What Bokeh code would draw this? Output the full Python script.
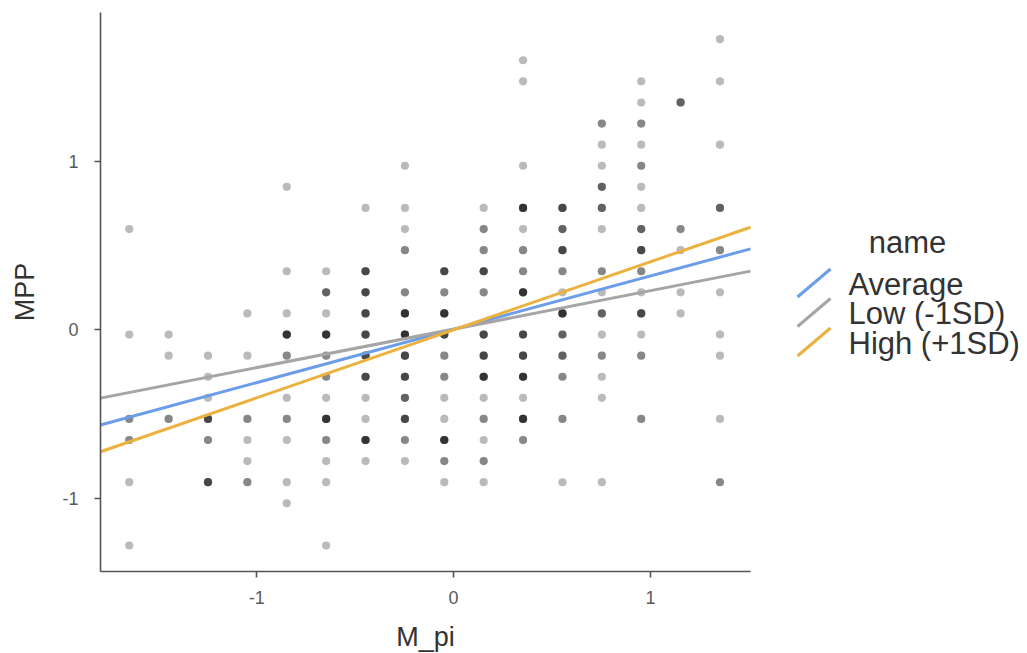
import numpy as np
from bokeh.plotting import figure
from bokeh.models import Range1d, FixedTicker, PrintfTickFormatter, Title
from bokeh.embed import file_html
from bokeh.resources import INLINE
from bokeh.core.properties import value

# ---------------- data ----------------
# one entry per distinct (M_pi, MPP) position; N_OBS = overlapping observations there
M_PI = [
    -1.647, -1.647, -1.647, -1.647, -1.647, -1.647,
    -1.447, -1.447, -1.447,
    -1.247, -1.247, -1.247, -1.247, -1.247, -1.247,
    -1.047, -1.047, -1.047, -1.047, -1.047, -1.047,
    -0.847, -0.847, -0.847, -0.847, -0.847, -0.847, -0.847, -0.847, -0.847, -0.847,
    -0.647, -0.647, -0.647, -0.647, -0.647, -0.647, -0.647, -0.647, -0.647, -0.647, -0.647, -0.647,
    -0.447, -0.447, -0.447, -0.447, -0.447, -0.447, -0.447, -0.447, -0.447, -0.447, -0.447,
    -0.247, -0.247, -0.247, -0.247, -0.247, -0.247, -0.247, -0.247, -0.247, -0.247, -0.247, -0.247, -0.247,
    -0.047, -0.047, -0.047, -0.047, -0.047, -0.047, -0.047, -0.047, -0.047, -0.047, -0.047,
    0.153, 0.153, 0.153, 0.153, 0.153, 0.153, 0.153, 0.153, 0.153, 0.153, 0.153, 0.153, 0.153,
    0.353, 0.353, 0.353, 0.353, 0.353, 0.353, 0.353, 0.353, 0.353, 0.353, 0.353, 0.353, 0.353, 0.353,
    0.553, 0.553, 0.553, 0.553, 0.553, 0.553, 0.553, 0.553, 0.553, 0.553, 0.553,
    0.753, 0.753, 0.753, 0.753, 0.753, 0.753, 0.753, 0.753, 0.753, 0.753, 0.753, 0.753, 0.753, 0.753,
    0.953, 0.953, 0.953, 0.953, 0.953, 0.953, 0.953, 0.953, 0.953, 0.953, 0.953, 0.953, 0.953, 0.953, 0.953,
    1.153, 1.153, 1.153, 1.153, 1.153,
    1.353, 1.353, 1.353, 1.353, 1.353, 1.353, 1.353, 1.353, 1.353, 1.353,
]
MPP = [
    0.597, -0.028, -0.528, -0.653, -0.903, -1.278,
    -0.028, -0.153, -0.528,
    -0.153, -0.278, -0.403, -0.528, -0.653, -0.903,
    0.097, -0.153, -0.528, -0.653, -0.778, -0.903,
    0.847, 0.347, 0.097, -0.028, -0.153, -0.403, -0.528, -0.653, -0.903, -1.028,
    0.347, 0.222, 0.097, -0.028, -0.153, -0.278, -0.403, -0.528, -0.653, -0.778, -0.903, -1.278,
    0.722, 0.347, 0.222, 0.097, -0.028, -0.153, -0.278, -0.403, -0.528, -0.653, -0.778,
    0.972, 0.722, 0.597, 0.472, 0.222, 0.097, -0.028, -0.153, -0.278, -0.403, -0.528, -0.653, -0.778,
    0.347, 0.222, 0.097, -0.028, -0.153, -0.278, -0.403, -0.528, -0.653, -0.778, -0.903,
    0.722, 0.597, 0.472, 0.347, 0.222, -0.028, -0.153, -0.278, -0.403, -0.528, -0.653, -0.778, -0.903,
    1.597, 1.472, 0.972, 0.722, 0.597, 0.472, 0.347, 0.222, -0.028, -0.153, -0.278, -0.403, -0.528, -0.653,
    0.722, 0.597, 0.472, 0.347, 0.222, 0.097, -0.028, -0.153, -0.278, -0.528, -0.903,
    1.222, 1.097, 0.972, 0.847, 0.722, 0.597, 0.347, 0.222, 0.097, -0.028, -0.153, -0.278, -0.403, -0.903,
    1.472, 1.347, 1.222, 1.097, 0.972, 0.847, 0.722, 0.597, 0.472, 0.347, 0.222, 0.097, -0.028, -0.153, -0.528,
    1.347, 0.597, 0.472, 0.222, 0.097,
    1.722, 1.472, 1.097, 0.722, 0.472, 0.222, -0.028, -0.153, -0.528, -0.903,
]
N_OBS = [
    1, 1, 2, 2, 1, 1,
    1, 1, 2,
    1, 1, 1, 4, 2, 4,
    1, 1, 2, 1, 1, 2,
    1, 1, 1, 5, 2, 1, 2, 1, 1, 1,
    1, 3, 1, 5, 2, 2, 1, 5, 2, 1, 1, 1,
    1, 4, 4, 4, 4, 4, 4, 1, 1, 5, 1,
    1, 1, 1, 2, 2, 5, 5, 4, 4, 3, 4, 2, 1,
    4, 2, 5, 4, 2, 2, 1, 1, 5, 2, 1,
    1, 2, 2, 4, 2, 4, 4, 5, 1, 2, 1, 2, 1,
    1, 1, 1, 5, 1, 2, 2, 5, 4, 4, 5, 1, 5, 2,
    4, 3, 4, 2, 1, 5, 3, 3, 2, 2, 1,
    2, 1, 1, 3, 3, 1, 2, 1, 3, 1, 2, 1, 1, 1,
    1, 1, 2, 1, 2, 1, 1, 3, 4, 2, 1, 4, 1, 2, 2,
    3, 2, 1, 1, 1,
    1, 1, 1, 3, 2, 1, 1, 1, 1, 2,
]

# simple slopes of MPP on M_pi at the three moderator levels
LINE_NAMES = ["Average", "Low (-1SD)", "High (+1SD)"]
LINE_SLOPES = [0.316, 0.228, 0.403]
LINE_INTERCEPTS = [0.003, 0.004, 0.000]
LINE_COLORS = ["#6B9DE8", "#A5A5A5", "#EBB23F"]

X_TICKS = [-1, 0, 1]
Y_TICKS = [-1, 0, 1]
X_LIMITS = (-1.793, 1.508)
Y_LIMITS = (-1.432, 1.880)

X_TITLE = "M_pi"
Y_TITLE = "MPP"
LEGEND_TITLE = "name"

FONT = "Liberation Sans"

# ---------------- layout (pixels) ----------------
PLOT_W = 650          # width of the data panel
LEGEND_W = 275        # room to the right of the panel for the legend
FRAME_H = 559
X_TITLE_SIZE = 27     # px
X_TITLE_EM = 2.167    # width of "M_pi" in em (Liberation Sans)

def px_to_x(px):      # pixels from the panel's left edge -> x data units
    return X_LIMITS[0] + px * (X_LIMITS[1] - X_LIMITS[0]) / PLOT_W

def py_to_y(py):      # pixels from the panel's top edge -> y data units
    return Y_LIMITS[1] - py * (Y_LIMITS[1] - Y_LIMITS[0]) / FRAME_H

p = figure(
    frame_width=PLOT_W + LEGEND_W, frame_height=FRAME_H,
    min_border_left=100, min_border_right=0, min_border_top=12, min_border_bottom=82,
    x_range=Range1d(X_LIMITS[0], px_to_x(PLOT_W + LEGEND_W)),
    y_range=Range1d(*Y_LIMITS),
    toolbar_location=None, output_backend="svg",
)
p.outline_line_color = None
p.grid.visible = False
p.background_fill_color = "white"
p.border_fill_color = "white"

# points (overlapping observations darken through transparency)
xs = np.repeat(np.array(M_PI), N_OBS)
ys = np.repeat(np.array(MPP), N_OBS)
p.scatter(xs, ys, size=8.2, fill_color="black", fill_alpha=0.27, line_color=None)

# regression lines across the panel
xl = np.array(X_LIMITS)
for name, b1, b0, col in zip(LINE_NAMES, LINE_SLOPES, LINE_INTERCEPTS, LINE_COLORS):
    p.line(xl, b0 + b1 * xl, line_color=col, line_width=3)

# axes
for ax in (p.xaxis[0], p.yaxis[0]):
    ax.axis_line_color = "#555555"
    ax.axis_line_width = 1.6
    ax.major_tick_line_color = "#555555"
    ax.major_tick_line_width = 1.6
    ax.major_tick_out = 6
    ax.major_tick_in = 0
    ax.minor_tick_line_color = None
    ax.major_label_text_font = FONT
    ax.major_label_text_font_size = "18px"
    ax.major_label_text_color = "#5a5a5a"
    ax.axis_label_text_font = FONT
    ax.axis_label_text_font_size = "27px"
    ax.axis_label_text_font_style = "normal"
    ax.axis_label_text_color = "#333333"
    ax.formatter = PrintfTickFormatter(format="%d")

p.xaxis.bounds = X_LIMITS
p.xaxis.ticker = FixedTicker(ticks=X_TICKS)
p.yaxis.ticker = FixedTicker(ticks=Y_TICKS)
p.yaxis.axis_label = Y_TITLE
p.xaxis.major_label_standoff = 13
p.yaxis.major_label_standoff = 16
p.yaxis.axis_label_standoff = 19
p.yaxis.major_label_orientation = "horizontal"

# x-axis title, centred under the data panel (not under the legend area)
p.add_layout(Title(
    text=X_TITLE, align="left",
    offset=PLOT_W / 2 - X_TITLE_SIZE * X_TITLE_EM / 2,
    text_font=FONT, text_font_size=f"{X_TITLE_SIZE}px", text_font_style="normal",
    text_color="#333333", standoff=26,
), "below")

# ---------------- legend (diagonal keys, as in the source) ----------------
KEY_X0, KEY_X1 = 697, 730     # px from the panel's left edge
TEXT_X = 748
TITLE_X, TITLE_Y = 807, 230
ROW_Y0, ROW_STEP, KEY_HALF = 270.5, 29.5, 14

row_py = ROW_Y0 + ROW_STEP * np.arange(len(LINE_NAMES))
p.segment(x0=[px_to_x(KEY_X0)] * len(LINE_NAMES), y0=py_to_y(row_py + KEY_HALF),
          x1=[px_to_x(KEY_X1)] * len(LINE_NAMES), y1=py_to_y(row_py - KEY_HALF),
          line_color=LINE_COLORS, line_width=3)
p.text(x=[px_to_x(TEXT_X)] * len(LINE_NAMES), y=py_to_y(row_py + 1), text=LINE_NAMES,
       text_font=value(FONT), text_font_size="31px", text_color="#333333",
       text_baseline="middle", text_align="left")
p.text(x=[px_to_x(TITLE_X)], y=[py_to_y(TITLE_Y)], text=[LEGEND_TITLE],
       text_font=value(FONT), text_font_size="31px", text_color="#333333",
       text_baseline="middle", text_align="center")

open("out.html", "w").write(file_html(p, INLINE))
